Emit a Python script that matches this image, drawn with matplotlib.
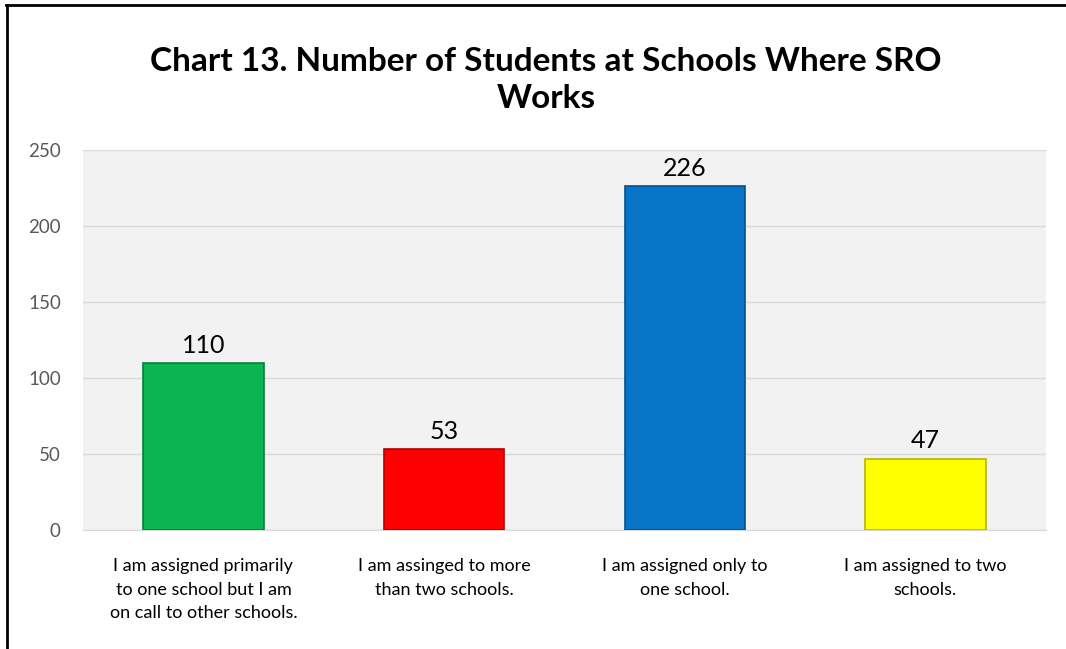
import matplotlib.pyplot as plt
from matplotlib.lines import Line2D

categories = [
    "I am assigned primarily\nto one school but I am\non call to other schools.",
    "I am assinged to more\nthan two schools.",
    "I am assigned only to\none school.",
    "I am assigned to two\nschools.",
]
values = [110, 53, 226, 47]
bar_colors = ["#0BB552", "#FF0000", "#0874C8", "#FFFF00"]
edge_colors = ["#07803A", "#B00000", "#05508C", "#B5B500"]
y_ticks = [0, 50, 100, 150, 200, 250]

plt.rcParams["font.family"] = ["Lato", "DejaVu Sans"]

fig = plt.figure(figsize=(10.66, 6.49), dpi=100)
ax = fig.add_axes([0.0779, 0.1834, 0.9031, 0.5856])
ax.set_facecolor("#F2F2F2")

x = list(range(len(values)))
ax.bar(x, values, width=0.5, color=bar_colors, edgecolor=edge_colors,
       linewidth=1.2, zorder=3)
for xi, v in zip(x, values):
    ax.text(xi, v + 4, str(v), ha="center", va="bottom", fontsize=18,
            color="#000000", zorder=4)

ax.set_xlim(-0.5, len(values) - 0.5)
ax.set_ylim(0, 250)
ax.set_yticks(y_ticks)
ax.grid(axis="y", color="#D9D9D9", linewidth=1, zorder=0)
ax.set_xticks(x)
ax.set_xticklabels(categories, fontsize=13, color="#000000", linespacing=1.6)
ax.tick_params(axis="y", labelsize=13.5, labelcolor="#595959", length=0, pad=16)
ax.tick_params(axis="x", length=0, pad=20)
for side in ["top", "right", "left"]:
    ax.spines[side].set_visible(False)
ax.spines["bottom"].set_color("#D9D9D9")

fig.text(0.512, 0.877, "Chart 13. Number of Students at Schools Where SRO\nWorks",
         ha="center", va="center", fontsize=24, fontweight="bold",
         linespacing=1.35)

# outer frame (left and top edges only, as in the original)
fig.add_artist(Line2D([0.0066, 0.0066], [0.0, 0.992], transform=fig.transFigure,
                      color="black", linewidth=2))
fig.add_artist(Line2D([0.0056, 1.0], [0.992, 0.992], transform=fig.transFigure,
                      color="black", linewidth=2))

fig.savefig("out.png", dpi=100)
